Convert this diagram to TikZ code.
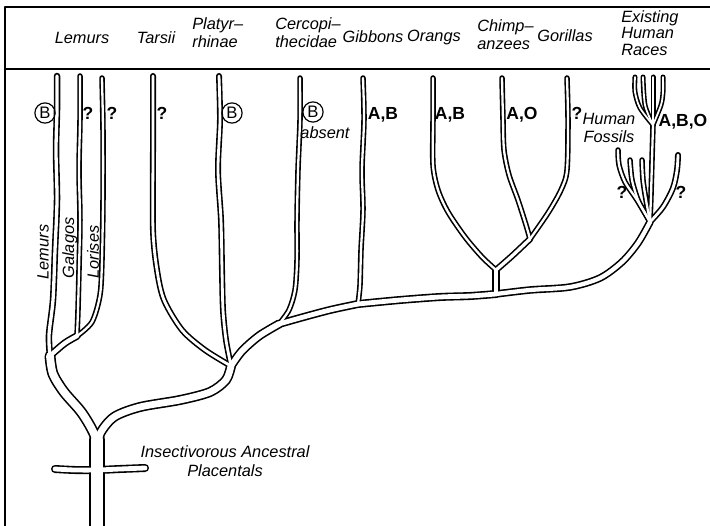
\documentclass[tikz,border=0pt]{standalone}
\usepackage{fontspec}
\setmainfont{Liberation Sans}
\usetikzlibrary{arrows.meta}
\tikzset{
    tube/.style={line width=#1*0.6pt},
    lbl/.style={font=\fontsize{9.8}{11}\selectfont\itshape, inner sep=0pt},
    grp/.style={font=\fontsize{10.5}{12}\selectfont\bfseries, inner sep=0pt},
    blood/.style={draw, circle, inner sep=0.9pt, line width=0.7pt, font=\fontsize{10}{11}\selectfont},
    frame/.style={line width=1.2pt}
}
\newcommand\drawtree{%
    \draw[tube=16] (97,545) -- (root);
    \draw[tube=8] plot[smooth] coordinates {(55,469) (75,470) (97,470) (120,469) (145,468)};
    \draw[tube=11] plot[smooth] coordinates {(96,452) (95,436) (82,413) (64,392) (53,374) (lemj)};
    \draw[tube=10] plot[smooth] coordinates {(98,452) (100,434) (114,417) (140,407) (180,400) (210,392) (226,380) (tpj)};
    \draw[tube=6.5] plot[smooth] coordinates {(lemj) (49,335) (53,300) (55,250) (57,200) (56,150) (57,110) (57,76)};
    \draw[tube=5.5] plot[smooth] coordinates {(80,76) (80,120) (79,170) (80,220) (79,270) (78,310) (glj)};
    \draw[tube=5.5] plot[smooth] coordinates {(102,78) (103,130) (103,200) (102,260) (100,295) (92,322) (glj)};
    \draw[tube=7.5] plot[smooth] coordinates {(glj) (65,343) (52,354)};
    \draw[tube=6] plot[smooth] coordinates {(153,76) (153,150) (153,230) (157,270) (164,300) (182,330) (205,350) (tpj)};
    \draw[tube=6] plot[smooth] coordinates {(219,76) (220,120) (218,170) (221,220) (222,270) (223,310) (226,340) (tpj)};
    \draw[tube=9] plot[smooth] coordinates {(tpj) (242,351) (259,336) (cerj)};
    \draw[tube=5.5] plot[smooth] coordinates {(300,78) (300,120) (298,170) (297,220) (297,260) (295,290) (289,310) (cerj)};
    \draw[tube=8] plot[smooth] coordinates {(cerj) (300,318) (330,310) (gibj)};
    \draw[tube=5.5] plot[smooth] coordinates {(363,78) (364,120) (362,170) (363,210) (361,250) (360,285) (gibj)};
    \draw[tube=8] plot[smooth] coordinates {(gibj) (400,300) (440,297) (470,296) (apej)};
    \draw[tube=7.5] (apej) -- (apef);
    \draw[tube=5.5] plot[smooth] coordinates {(433,78) (433,120) (433,165) (438,190) (448,212) (465,237) (482,257) (apef)};
    \draw[tube=5.5] plot[smooth] coordinates {(502,78) (503,120) (504,150) (509,175) (518,200) (526,225) (cgj)};
    \draw[tube=5.5] plot[smooth] coordinates {(567,78) (568,120) (567,170) (561,190) (548,213) (cgj)};
    \draw[tube=6.5] plot[smooth] coordinates {(cgj) (512,256) (apef)};
    \draw[tube=7.5] plot[smooth] coordinates {(apej) (530,290) (570,287) (600,278) (622,262) (638,243) (humj)};
    \draw[tube=6] plot[smooth] coordinates {(humj) (663,207) (673,188) (677,170) (678,155)};
    \draw[tube=5.5] plot[smooth] coordinates {(humj) (651,195) (652,160) (racej)};
    \draw[tube=5] plot[smooth] coordinates {(racej) (640,108) (635,92) (635,77)};
    \draw[tube=5] plot[smooth] coordinates {(racej) (645,105) (643,77)};
    \draw[tube=5] plot[smooth] coordinates {(racej) (653,100) (653,77)};
    \draw[tube=5] plot[smooth] coordinates {(racej) (661,105) (663,92) (663,77)};
    \draw[tube=5.5] plot[smooth] coordinates {(618,150) (619,165) (625,182) (637,200) (humj)};
    \draw[tube=5.5] plot[smooth] coordinates {(630,160) (632,180) (638,200) (645,213) (humj)};
    \draw[tube=5.5] plot[smooth] coordinates {(642,160) (643,180) (646,200) (humj)};
}
\begin{document}
\begin{tikzpicture}[x=0.6pt, y=-0.6pt, line cap=round, line join=round]
    \useasboundingbox (0,0) rectangle (710,526);
    \clip (0,0) rectangle (710,526);
    \coordinate (root) at (97,440);
    \coordinate (lemj) at (50,356);
    \coordinate (glj) at (77,336);
    \coordinate (tpj) at (231,366);
    \coordinate (cerj) at (279,324);
    \coordinate (gibj) at (358,304);
    \coordinate (apej) at (496,294);
    \coordinate (apef) at (496,270);
    \coordinate (cgj) at (530,239);
    \coordinate (humj) at (650,222);
    \coordinate (racej) at (653,125);
    \tikzset{tube/.style={black, line width=#1*0.6pt}}
    \drawtree
    \tikzset{tube/.style={white, line width=(#1-3.2)*0.6pt}}
    \drawtree
    \draw[frame] (5,530) -- (5,7) -- (715,7);
    \draw[frame] (5,69) -- (715,69);
    \node[lbl] (hlemurs) at (82,38) {Lemurs};
    \node[lbl] (htarsii) at (156,38) {Tarsii};
    \node[lbl, anchor=west, align=left] (hplatyr) at (192,33) {Platyr--\\rhinae};
    \node[lbl, anchor=west, align=left] (hcercop) at (275,33) {Cercopi--\\thecidae};
    \node[lbl] (hgibbons) at (373,37) {Gibbons};
    \node[lbl] (horangs) at (434,37) {Orangs};
    \node[lbl, anchor=west, align=left] (hchimp) at (477,35) {Chimp--\\anzees};
    \node[lbl] (hgorillas) at (565,36) {Gorillas};
    \node[lbl, anchor=west, align=left, font=\fontsize{9.8}{10}\selectfont\itshape] (hhuman) at (621,33) {Existing\\Human\\Races};
    \node[blood] (lemb) at (45,113) {B};
    \node[grp] (galq) at (88,113) {?};
    \node[grp] (lorq) at (112,113) {?};
    \node[grp] (tarq) at (162,113) {?};
    \node[blood] (platb) at (232,113) {B};
    \node[blood] (cerb) at (313,112) {B};
    \node[lbl] (cerabs) at (325,133) {absent};
    \node[grp] (gibab) at (383,115) {A,B};
    \node[grp] (orab) at (450,115) {A,B};
    \node[grp] (chao) at (522,115) {A,O};
    \node[grp] (gorq) at (577,113) {?};
    \node[lbl, align=center] (fossils) at (609,128) {Human\\Fossils};
    \node[grp] (raceabo) at (683,122) {A,B,O};
    \node[grp] (fossq) at (622,192) {?};
    \node[grp] (rightq) at (681,192) {?};
    \node[lbl, rotate=90] (vlemurs) at (43,252) {Lemurs};
    \node[lbl, rotate=90] (vgalagos) at (70,248) {Galagos};
    \node[lbl, rotate=90] (vlorises) at (93,252) {Lorises};
    \node[lbl, align=center] (insect) at (225,461) {Insectivorous Ancestral\\Placentals};
\end{tikzpicture}
\end{document}
